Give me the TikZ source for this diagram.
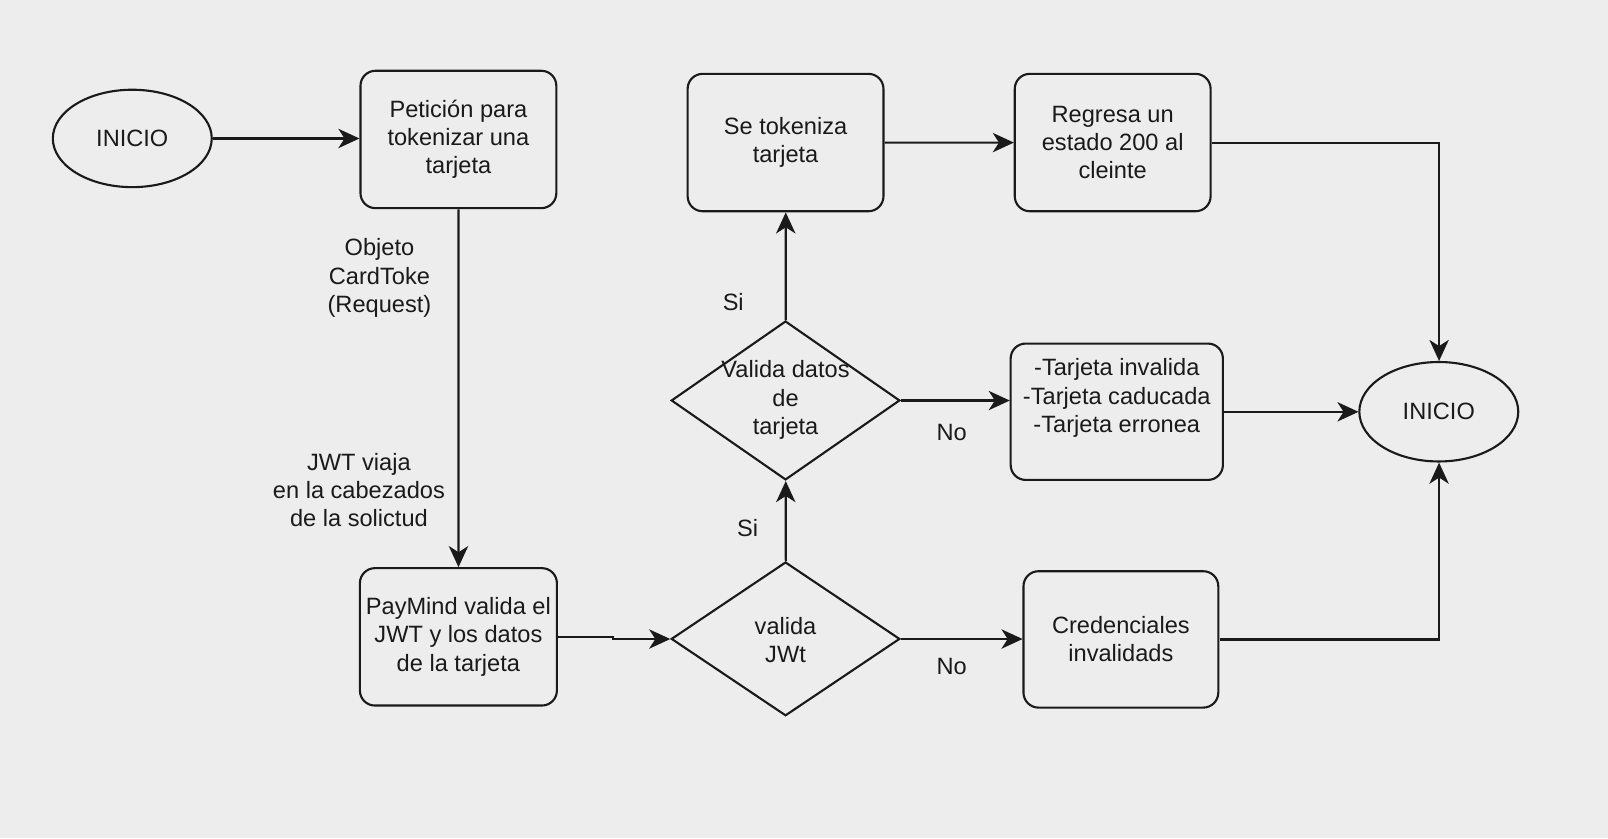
\documentclass[tikz,border=0pt]{standalone}
\usepackage{fontspec}
\setmainfont{Liberation Sans}
\usepackage{tikz}
\usetikzlibrary{arrows.meta,shapes.geometric}
\definecolor{fondo}{RGB}{237,237,237}
\definecolor{trazo}{RGB}{26,26,26}
\begin{document}
\begin{tikzpicture}[x=0.02cm,y=-0.02cm,scale=1.0255,transform shape,line width=1.2pt,draw=trazo,text=trazo,
  font=\fontsize{13.1pt}{15.6pt}\selectfont,
  arr/.style={-{Stealth[length=12pt,width=11pt,inset=3.5pt]}},
  caja/.style={draw,rounded corners=0.3cm,minimum width=3.82cm,minimum height=2.68cm,align=center},
  inicio/.style={draw,ellipse,minimum width=3.1cm,minimum height=1.9cm},
  decision/.style={draw,diamond,inner sep=0pt,minimum width=4.46cm,minimum height=3cm},
  txt/.style={align=center,inner sep=0pt}]
\fill[fondo] (0,0) rectangle (1568,817.2);
\node[inicio] (inicio) at (129,135) {INICIO};
\node[caja] (peticion) at (447,136) {Petición para\\tokenizar una\\tarjeta};
\node[caja] (paymind) at (447,621) {PayMind valida el\\JWT y los datos\\de la tarjeta};
\node[decision] (jwt) at (766,623) {};
\node[txt] (jwttxt) at (766,624) {valida\\JWt};
\node[decision,minimum height=3.1cm] (datos) at (766,390.5) {};
\node[txt] (datostxt) at (766,390) {Valida datos\\de\\tarjeta};
\node[caja] (tokeniza) at (766,139) {Se tokeniza\\tarjeta};
\node[caja] (regresa) at (1085,139) {Regresa un\\estado 200 al\\cleinte};
\node[caja,minimum width=4.14cm,minimum height=2.66cm] (tarjeta) at (1089,401.5) {};
\node[txt] (tarjetatxt) at (1089,388) {-Tarjeta invalida\\-Tarjeta caducada\\-Tarjeta erronea};
\node[caja,minimum width=3.8cm,minimum height=2.66cm] (cred) at (1093,623.5) {Credenciales\\invalidads};
\node[inicio,minimum height=1.94cm] (fin) at (1403,401.5) {INICIO};
\coordinate (jog) at (598,621);
\draw[arr] (inicio.east) -- (inicio.east -| peticion.west);
\draw[arr] (peticion) -- (paymind);
\draw[arr] (paymind.east) -- (jog) |- (jwt.west);
\draw[arr] (jwt) -- (datos);
\draw[arr] (datos) -- (tokeniza);
\draw[arr] (tokeniza) -- (regresa);
\draw[arr] (datos.east) -- (datos.east -| tarjeta.west);
\draw[arr] (jwt.east) -- (jwt.east -| cred.west);
\draw[arr] (regresa.east) -| (fin.north);
\draw[arr] (tarjeta.east) -- (fin.west);
\draw[arr] (cred.east) -| (fin.south);
\node[txt] (objeto) at (370,271) {Objeto\\CardToke\\(Request)};
\node[txt] (cabeza) at (350,478) {JWT viaja\\en la cabezados\\de la solictud};
\node[txt] (si1) at (729,515) {Si};
\node[txt] (si2) at (715,295) {Si};
\node[txt] (no1) at (928,422) {No};
\node[txt] (no2) at (928,650) {No};
\end{tikzpicture}
\end{document}
